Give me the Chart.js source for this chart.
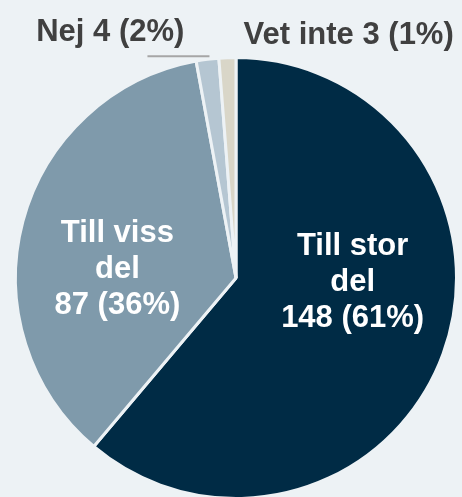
<!DOCTYPE html>
<html>
<head>
<meta charset="utf-8">
<script src="https://cdn.jsdelivr.net/npm/chart.js@4"></script>
<style>
    html, body { margin: 0; padding: 0; background: #edf2f5; overflow: hidden; }
    #wrap { width: 462px; height: 497px; overflow: hidden; }
</style>
</head>
<body>
<div id="wrap">
    <canvas id="pieChart" width="462" height="520"></canvas>
</div>
<script>
/* Data */

const categories = ["Till stor del", "Till viss del", "Nej", "Vet inte"];
const counts = [148, 87, 4, 3];

/* Style */

const sliceColors = ["#002b45", "#7f9aab", "#b5c6d2", "#d9d6c8"];
const bgColor = "#edf2f5";
const labelFont = "bold 31px 'Liberation Sans', Arial, sans-serif";

// label anchors as fractions of the radius from the pie centre
const labelSpots = [
    { inside: true, dx: 0.529, dy: -0.104 },
    { inside: true, dx: -0.538, dy: -0.163 },
    { inside: false, dx: -0.570, dy: -1.077, leader: true },
    { inside: false, dx: 0.511, dy: -1.063 }
];

const total = counts.reduce((a, b) => a + b, 0);

/* Label plugin */

const sliceLabels = {
    id: "sliceLabels",
    afterDatasetsDraw(chart) {
        const ctx = chart.ctx;
        const arcs = chart.getDatasetMeta(0).data;
        ctx.save();
        ctx.font = labelFont;
        ctx.textAlign = "center";
        ctx.textBaseline = "alphabetic";

        arcs.forEach((arc, i) => {
            const spot = labelSpots[i];
            const r = arc.outerRadius;
            const x = arc.x + spot.dx * r;
            const y = arc.y + spot.dy * r;
            const pct = Math.round(counts[i] / total * 100);
            const tail = counts[i] + " (" + pct + "%)";

            if (spot.inside) {
                const name = categories[i];
                const cut = name.lastIndexOf(" ");
                const lines = [name.slice(0, cut), name.slice(cut + 1), tail];
                ctx.fillStyle = "#ffffff";
                lines.forEach((line, k) => ctx.fillText(line, x, y + k * 36));
            } else {
                ctx.fillStyle = "#404040";
                ctx.fillText(categories[i] + " " + tail, x, y);
            }

            if (spot.leader) {
                const mid = (arc.startAngle + arc.endAngle) / 2;
                const ex = arc.x + Math.cos(mid) * r;
                const ey = arc.y + Math.sin(mid) * r - 3;
                ctx.strokeStyle = "#a6a6a6";
                ctx.lineWidth = 2;
                ctx.beginPath();
                ctx.moveTo(ex - 60, ey);
                ctx.lineTo(ex + 2, ey);
                ctx.stroke();
            }
        });
        ctx.restore();
    }
};

/* Create Chart */

const ctx = document.getElementById("pieChart");

const pieChart = new Chart(ctx, {

    type: "pie",

    data: {
        labels: categories,
        datasets: [{
            data: counts,
            backgroundColor: sliceColors,
            borderColor: bgColor,
            borderWidth: 3,
            hoverOffset: 0,
            offset: 0
        }]
    },

    options: {
        responsive: false,
        animation: false,
        events: [],
        layout: {
            padding: { left: 14, right: 4, top: 56, bottom: 20 }
        },
        plugins: {
            legend: { display: false },
            tooltip: { enabled: false }
        }
    },

    plugins: [sliceLabels]

});
</script>
</body>
</html>
